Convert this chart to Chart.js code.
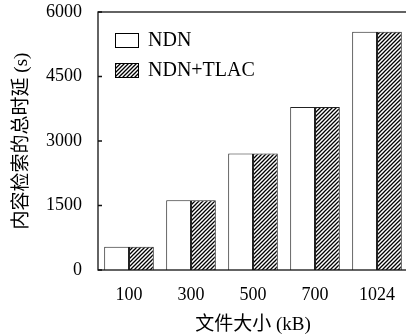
<!DOCTYPE html>
<html>
<head>
<meta charset="utf-8">
<script src="https://cdn.jsdelivr.net/npm/chart.js@4.4.1/dist/chart.umd.min.js"></script>
<style>
  html, body { margin: 0; padding: 0; background: #fff; overflow: hidden; width: 406px; height: 336px; }
  #chart { position: absolute; left: 0; top: 0; }
</style>
</head>
<body>
<canvas id="chart" width="408" height="336"></canvas>
<script>
// data
const sizes   = ['100', '300', '500', '700', '1024'];
const ndn     = [540, 1620, 2710, 3790, 5540];
const ndnTlac = [540, 1620, 2710, 3790, 5540];
const yTicks  = [0, 1500, 3000, 4500, 6000];

const SERIF = "'Liberation Serif', 'Noto Sans CJK SC', serif";

function hatchPattern() {
  const c = document.createElement('canvas');
  c.width = 4; c.height = 4;
  const g = c.getContext('2d');
  g.fillStyle = '#fff';
  g.fillRect(0, 0, 4, 4);
  g.strokeStyle = '#000';
  g.lineWidth = 1.3;
  g.beginPath();
  g.moveTo(0, 4); g.lineTo(4, 0);
  g.moveTo(-1, 1); g.lineTo(1, -1);
  g.moveTo(3, 5); g.lineTo(5, 3);
  g.stroke();
  return g.createPattern(c, 'repeat');
}

// frame + inward tick marks on the left axis
const framePlugin = {
  id: 'frame',
  afterDraw(chart) {
    const { ctx, chartArea: a } = chart;
    const y = chart.scales.y;
    ctx.save();
    ctx.strokeStyle = '#111';
    ctx.lineWidth = 1.3;
    ctx.strokeRect(a.left, a.top, a.right - a.left, a.bottom - a.top);
    ctx.beginPath();
    yTicks.forEach(v => {
      const py = y.getPixelForValue(v);
      ctx.moveTo(a.left, py);
      ctx.lineTo(a.left + 4, py);
    });
    ctx.stroke();
    ctx.restore();
  }
};

// legend drawn inside the plot, top-left
const innerLegend = {
  id: 'innerLegend',
  afterDraw(chart) {
    const { ctx, chartArea: a } = chart;
    ctx.save();
    ctx.font = '20px ' + SERIF;
    ctx.textBaseline = 'middle';
    chart.data.datasets.forEach((ds, i) => {
      const bx = a.left + 17, by = a.top + 21 + i * 30;
      ctx.fillStyle = ds.backgroundColor;
      ctx.fillRect(bx, by, 24, 15);
      ctx.strokeStyle = '#000';
      ctx.lineWidth = 1;
      ctx.strokeRect(bx + 0.5, by + 0.5, 23, 14);
      ctx.fillStyle = '#000';
      ctx.fillText(ds.label, bx + 33, by + 8);
    });
    ctx.restore();
  }
};

new Chart(document.getElementById('chart'), {
  type: 'bar',
  data: {
    labels: sizes,
    datasets: [
      { label: 'NDN',      data: ndn,     backgroundColor: '#fff',          borderColor: '#222', borderWidth: 1 },
      { label: 'NDN+TLAC', data: ndnTlac, backgroundColor: hatchPattern(), borderColor: '#222', borderWidth: 1 },
    ],
  },
  options: {
    responsive: false, animation: false,
    layout: { padding: { top: 12, right: 0, left: 0, bottom: 0 } },
    datasets: { bar: { categoryPercentage: 0.8, barPercentage: 1.0 } },
    plugins: { legend: { display: false }, tooltip: { enabled: false } },
    scales: {
      x: {
        grid: { display: false, drawTicks: false },
        border: { display: false },
        ticks: { color: '#000', font: { family: SERIF, size: 18 }, padding: 14 },
        title: { display: true, text: '文件大小 (kB)', color: '#000', font: { family: SERIF, size: 19 }, padding: { top: 0, bottom: 0 } },
        afterFit: s => { s.height = 66; s.paddingLeft = 0; s.paddingRight = 0; },
      },
      y: {
        min: 0, max: 6000,
        afterBuildTicks: s => { s.ticks = yTicks.map(v => ({ value: v })); },
        grid: { display: false, drawTicks: false },
        border: { display: false },
        ticks: { color: '#000', font: { family: SERIF, size: 18 }, padding: 16, callback: v => String(v) },
        title: { display: true, text: '内容检索的总时延 (s)', color: '#000', font: { family: SERIF, size: 19 }, padding: { top: 11, bottom: 0 } },
        afterFit: s => { s.width = 98; s.paddingTop = 0; s.paddingBottom = 0; },
      },
    },
  },
  plugins: [framePlugin, innerLegend],
});
</script>
</body>
</html>
